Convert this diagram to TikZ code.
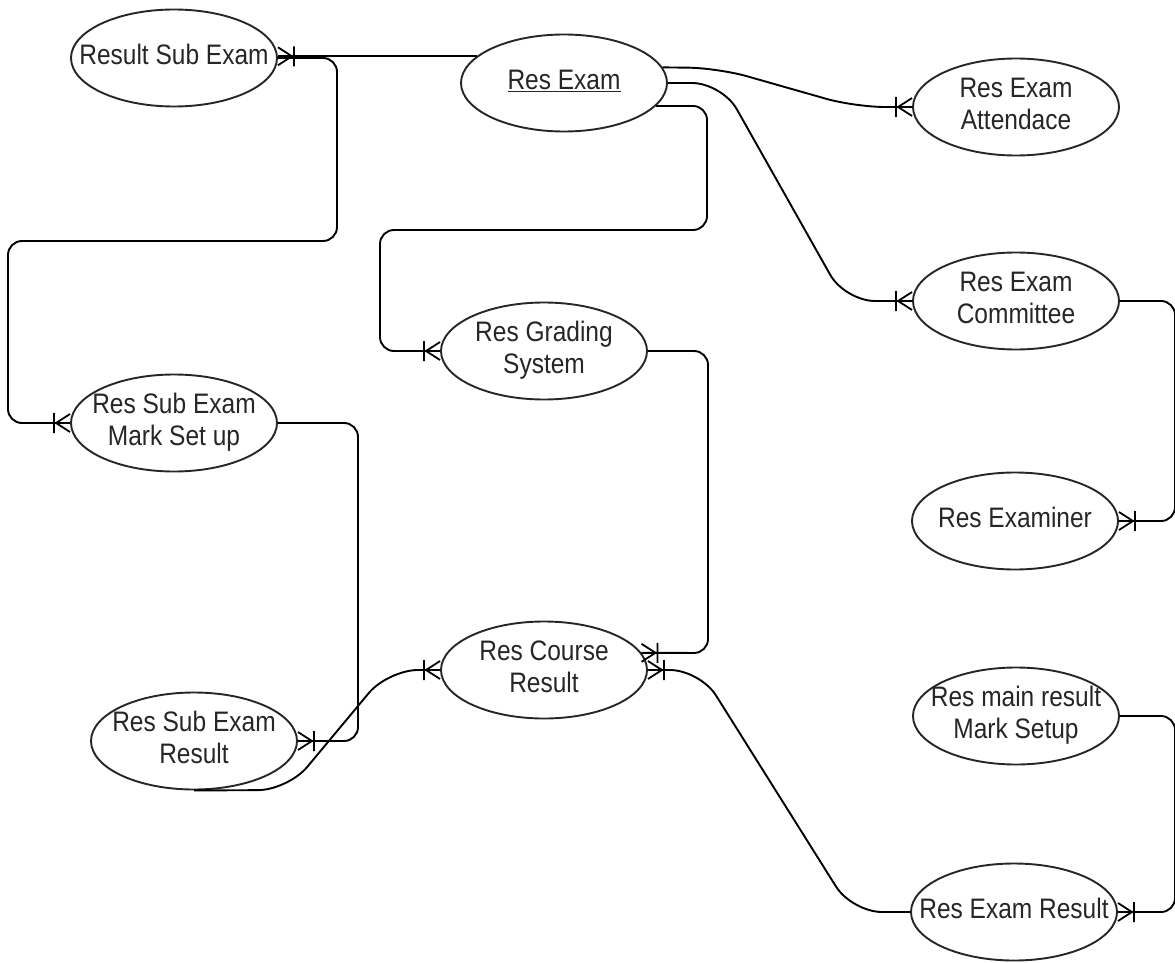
\documentclass[tikz,border=0pt]{standalone}
\usepackage{fontspec}
\usepackage{graphicx}
\setmainfont{Liberation Sans}
\usetikzlibrary{shapes.geometric,calc}
\newcommand{\lbl}[1]{\makebox[0pt]{\scalebox{1}[1.15]{\begin{tabular}{@{}c@{}}#1\end{tabular}}}}
\tikzset{
  ent/.style={ellipse, draw=black!85, line width=1.9pt, minimum width=206pt, minimum height=97pt,
    inner sep=0pt, align=center, font=\fontsize{24.5}{28.5}\selectfont, text=black!85, fill=white},
  conn/.style={line width=1.9pt, draw=black, rounded corners=14pt},
  onemany/.pic={\draw[line width=1.8pt, black] (-16,-10)--(-16,10) (0,-9)--(-14,0)--(0,9);}
}
\begin{document}
\begin{tikzpicture}[x=1pt,y=-1pt]
\useasboundingbox (0,0) rectangle (1175,963);
% entities
\node[ent] (rse) at (174,58) {\lbl{Result Sub Exam}};
\node[ent] (rex) at (564,83) {\lbl{\underline{Res Exam}}};
\node[ent] (att) at (1016,107) {\lbl{Res Exam\\Attendace}};
\node[ent] (com) at (1016,301) {\lbl{Res Exam\\Committee}};
\node[ent] (exr) at (1015,521) {\lbl{Res Examiner}};
\node[ent] (mms) at (1016,716) {\lbl{Res main result\\Mark Setup}};
\node[ent] (erz) at (1014,912) {\lbl{Res Exam Result}};
\node[ent] (grd) at (544,351) {\lbl{Res Grading\\System}};
\node[ent] (msu) at (174,423) {\lbl{Res Sub Exam\\Mark Set up}};
\node[ent] (ser) at (194,741) {\lbl{Res Sub Exam\\Result}};
\node[ent] (crs) at (544,670) {\lbl{Res Course\\Result}};
% connectors
\draw[conn] (rex.163) -- (rex.163 -| rse.east);
\pic[rotate=180] at (rex.163 -| rse.east) {onemany};
\draw[conn] (rse.east) -- (337,58) -- (337,241) -- (8,241) -- (8,423) -- (msu.west);
\pic at (msu.west) {onemany};
\draw[conn, rounded corners=30pt] (rex.9) -- (718,68) -- (855,107) -- (att.west);
\pic at (att.west) {onemany};
\draw[conn, rounded corners=30pt] (rex.east) -- (722,83) -- (845,301) -- (com.west);
\pic at (com.west) {onemany};
\draw[conn] (rex.346) -- (707,106) -- (707,230) -- (380,230) -- (380,351) -- (grd.west);
\pic at (grd.west) {onemany};
\draw[conn] (com.east) -- (1175,301) -- (1175,521) -- (exr.east);
\pic[rotate=180] at (exr.east) {onemany};
\draw[conn] (mms.east) -- (1175,716) -- (1175,912) -- (erz.east);
\pic[rotate=180] at (erz.east) {onemany};
\draw[conn] (grd.east) -- (708,351) -- (708,653) -- (crs.10);
\pic[rotate=180] at (crs.10) {onemany};
\draw[conn, rounded corners=30pt] (crs.east) -- (700,670) -- (852,912) -- (erz.west);
\pic[rotate=180] at (crs.east) {onemany};
\draw[conn] (msu.east) -- (358,423) -- (358,741) -- (ser.east);
\pic[rotate=180] at (ser.east) {onemany};
\draw[conn, rounded corners=30pt] (ser.south) -- (288,790) -- (388,670) -- (crs.west);
\pic at (crs.west) {onemany};
\end{tikzpicture}
\end{document}
